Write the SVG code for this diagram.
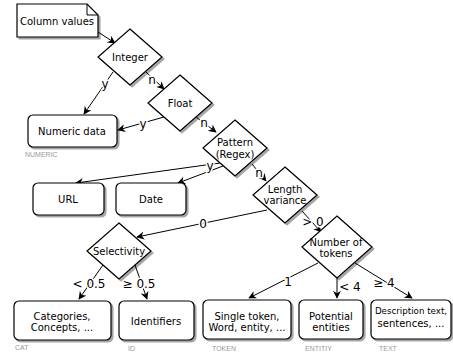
<svg xmlns="http://www.w3.org/2000/svg" width="453" height="353" viewBox="0 0 453 353">
<style>
.shape{fill:#fff;stroke:#000;stroke-width:1.2;filter:url(#sh)}
.t{font-family:"DejaVu Sans",Verdana,sans-serif;font-size:10px;fill:#000;text-anchor:middle;dominant-baseline:central}
.el{font-family:"DejaVu Sans",Verdana,sans-serif;font-size:12px;fill:#000;text-anchor:middle;dominant-baseline:central;stroke:#fff;stroke-width:3px;paint-order:stroke;stroke-linejoin:round}
.g{font-family:"Liberation Sans",Arial,sans-serif;font-size:7px;fill:#999}
.c{fill:none;stroke:#000;stroke-width:1;marker-end:url(#ah)}
</style>
<defs>
<filter id="sh" x="-10%" y="-10%" width="130%" height="130%">
<feDropShadow dx="2" dy="2" stdDeviation="0.6" flood-color="#000" flood-opacity="0.35"/>
</filter>
<marker id="ah" viewBox="0 0 10 10" refX="9" refY="5" markerWidth="8" markerHeight="8" markerUnits="userSpaceOnUse" orient="auto">
<path d="M0,0 L10,5 L0,10 L3,5 Z" fill="#000"/>
</marker>
</defs>

<g id="connectors">
<path class="c" d="M98,32 L115,43"/>
<path class="c" d="M113,72 L84,114"/>
<text class="el" x="105" y="84">y</text>
<path class="c" d="M146,72 L164,89"/>
<text class="el" x="152" y="80">n</text>
<path class="c" d="M164,117 L118,130"/>
<text class="el" x="143" y="124">y</text>
<path class="c" d="M196,117 L216,132"/>
<text class="el" x="204" y="123">n</text>
<path class="c" d="M220,163 L76,183"/>
<path class="c" d="M223,166 L178,183"/>
<text class="el" x="210" y="166">y</text>
<path class="c" d="M252,164 L266,181"/>
<text class="el" x="259" y="173">n</text>
<path class="c" d="M267,210 L137,237"/>
<text class="el" x="203" y="224">0</text>
<path class="c" d="M302,211 L321,232"/>
<text class="el" x="313" y="222">&gt; 0</text>
<path class="c" d="M103,265 L79,299"/>
<text class="el" x="89" y="284">&lt; 0.5</text>
<path class="c" d="M135,265 L147,299"/>
<text class="el" x="139" y="284">≥ 0.5</text>
<path class="c" d="M318,263 L249,298"/>
<text class="el" x="288" y="282">1</text>
<path class="c" d="M337,278 L337,298"/>
<text class="el" x="350" y="287">&lt; 4</text>
<path class="c" d="M355,263 L412,298"/>
<text class="el" x="384" y="283">≥ 4</text>
</g>

<g id="column-values">
<path class="shape" d="M17,4 H87 L98,15 V37 H17 Z"/>
<path d="M87,4 V15 H98" fill="none" stroke="#000" stroke-width="1"/>
<text class="t" x="57" y="21">Column values</text>
</g>

<g id="integer">
<path class="shape" d="M130,29 L162,57 L130,85 L98,57 Z"/>
<text class="t" x="130" y="57">Integer</text>
</g>

<g id="float">
<path class="shape" d="M180,75 L212,103 L180,131 L148,103 Z"/>
<text class="t" x="180" y="103">Float</text>
</g>

<g id="pattern">
<path class="shape" d="M235,120 L267,148 L235,176 L203,148 Z"/>
<text class="t" x="235" y="142">Pattern</text>
<text class="t" x="235" y="154">(Regex)</text>
</g>

<g id="length-variance">
<path class="shape" d="M285,167 L317,195 L285,223 L253,195 Z"/>
<text class="t" x="285" y="189">Length</text>
<text class="t" x="285" y="200">variance</text>
</g>

<g id="number-of-tokens">
<path class="shape" d="M337,216 L372,247 L337,278 L302,247 Z"/>
<text class="t" x="336" y="242">Number of</text>
<text class="t" x="336" y="253">tokens</text>
</g>

<g id="selectivity">
<path class="shape" d="M119,223 L151,251 L119,279 L87,251 Z"/>
<text class="t" x="119" y="251">Selectivity</text>
</g>

<g id="numeric-data">
<rect class="shape" x="28" y="115" width="89" height="32" rx="5"/>
<text class="t" x="72" y="131">Numeric data</text>
<text class="g" x="25" y="157">NUMERIC</text>
</g>

<g id="url">
<rect class="shape" x="33" y="183" width="71" height="32" rx="5"/>
<text class="t" x="68" y="199">URL</text>
</g>

<g id="date">
<rect class="shape" x="116" y="183" width="70" height="32" rx="5"/>
<text class="t" x="151" y="199">Date</text>
</g>

<g id="categories">
<rect class="shape" x="14" y="301" width="97" height="39" rx="5"/>
<text class="t" x="62" y="316">Categories,</text>
<text class="t" x="62" y="327">Concepts, ...</text>
<text class="g" x="15" y="350">CAT</text>
</g>

<g id="identifiers">
<rect class="shape" x="119" y="301" width="75" height="39" rx="5"/>
<text class="t" x="156" y="321">Identifiers</text>
<text class="g" x="128" y="351">ID</text>
</g>

<g id="single-token">
<rect class="shape" x="203" y="300" width="88" height="39" rx="5"/>
<text class="t" x="247" y="316">Single token,</text>
<text class="t" x="247" y="327">Word, entity, ...</text>
<text class="g" x="212" y="351">TOKEN</text>
</g>

<g id="potential-entities">
<rect class="shape" x="299" y="300" width="64" height="39" rx="5"/>
<text class="t" x="331" y="316">Potential</text>
<text class="t" x="331" y="327">entities</text>
<text class="g" x="305" y="351">ENTITIY</text>
</g>

<g id="description-text">
<rect class="shape" x="371" y="300" width="80" height="39" rx="5"/>
<text class="t" x="411" y="311" style="font-size:8.7px">Description text,</text>
<text class="t" x="411" y="323">sentences, ...</text>
<text class="g" x="379" y="351">TEXT</text>
</g>
</svg>
